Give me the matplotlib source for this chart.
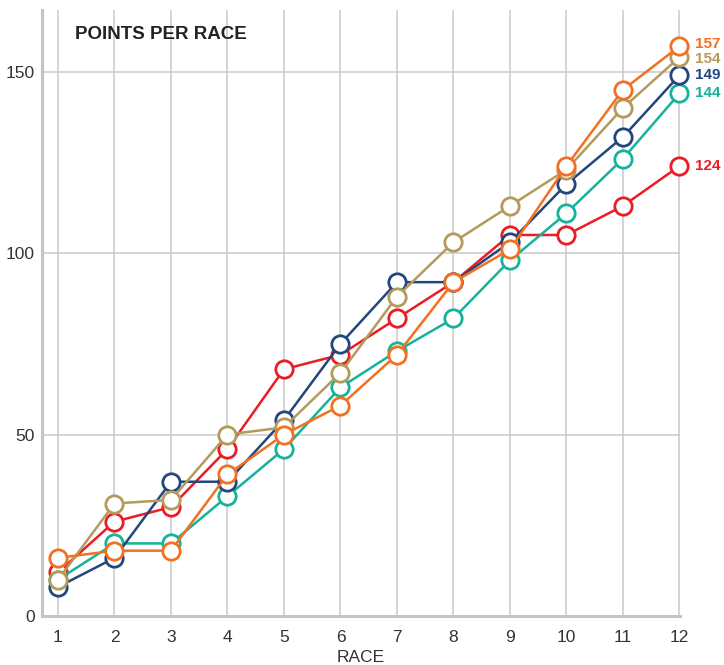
import numpy as np
import matplotlib
matplotlib.use("Agg")
import matplotlib.pyplot as plt

# puntos acumulados por carrera
carreras = np.arange(1, 13)
naranja = [16, 18, 18, 39, 50, 58, 72, 92, 101, 124, 145, 157]
ocre = [10, 31, 32, 50, 52, 67, 88, 103, 113, 123, 140, 154]
azul = [8, 16, 37, 37, 54, 75, 92, 92, 103, 119, 132, 149]
turquesa = [10, 20, 20, 33, 46, 63, 73, 82, 98, 111, 126, 144]
rojo = [12, 26, 30, 46, 68, 72, 82, 92, 105, 105, 113, 124]

# orden de dibujo: de abajo a arriba (color, desplazamiento vertical de la etiqueta)
series = [
    (rojo, "#ec1c24", 0),
    (turquesa, "#16b29a", 0),
    (azul, "#24467f", 0),
    (ocre, "#b49a5b", -1.5),
    (naranja, "#f37021", 2),
]

fuente = ["Liberation Sans", "DejaVu Sans"]

fig = plt.figure(figsize=(7.24, 6.65), dpi=100)
ax = fig.add_axes([42/724, 49/665, 638/724, 606/665])

for valores, color, dy in series:
    ax.plot(carreras, valores, color=color, lw=1.8, marker="o", ms=12.5,
            mfc="white", mec=color, mew=2.0, clip_on=False)
    ax.annotate(str(valores[-1]), (carreras[-1], valores[-1]), xytext=(11.5, dy),
                textcoords="offset points", va="center", ha="left",
                color=color, fontsize=11, fontweight="bold",
                family=fuente, annotation_clip=False)

ax.set_xlim(0.717, 12.01)
ax.set_ylim(0, 167)
ax.set_xticks(carreras)
ax.set_yticks([0, 50, 100, 150])

ax.grid(True, color="#c9c9c9", lw=1.1)
ax.set_axisbelow(True)

for lado in ["top", "right"]:
    ax.spines[lado].set_visible(False)
for lado in ["left", "bottom"]:
    ax.spines[lado].set_color("#c4c4c4")
    ax.spines[lado].set_linewidth(2.2)

ax.tick_params(length=0, colors="#333333", labelsize=12.5)
ax.tick_params(axis="x", pad=10)
ax.tick_params(axis="y", pad=5)
for etiqueta in ax.get_xticklabels() + ax.get_yticklabels():
    etiqueta.set_family(fuente)

ax.set_xlabel("RACE", fontsize=12.5, color="#333333", family=fuente, labelpad=4)

ax.text(0.052, 0.959, "POINTS PER RACE", transform=ax.transAxes, fontsize=13.5,
        fontweight="bold", family=fuente,
        color="#222222", va="center", ha="left")

fig.savefig("out.png", dpi=100)
